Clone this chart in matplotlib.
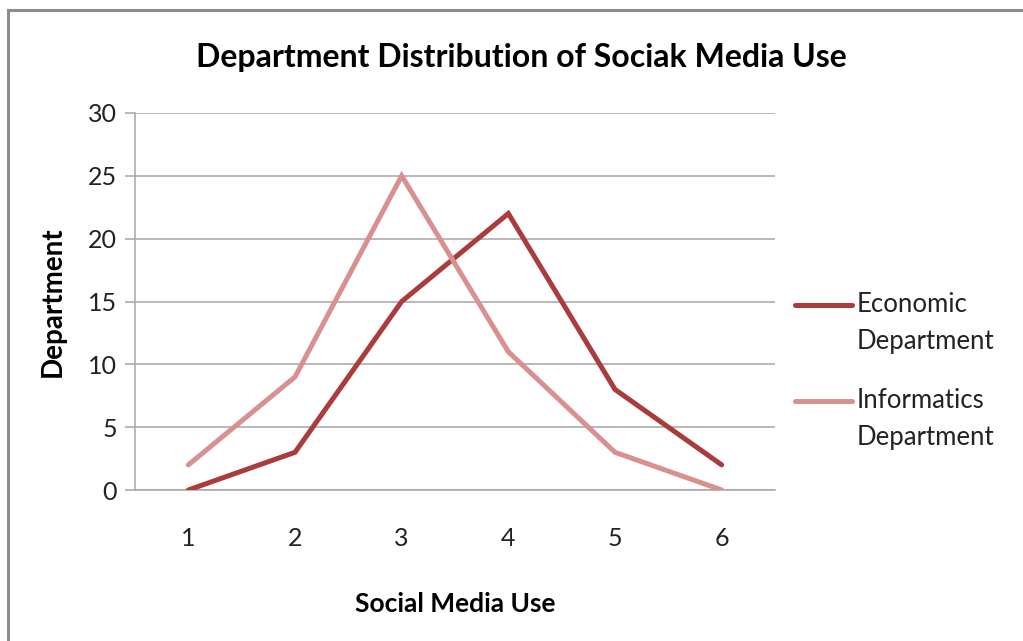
import matplotlib
matplotlib.use("Agg")
import matplotlib.pyplot as plt
from matplotlib.patches import Rectangle
from matplotlib.lines import Line2D

categories = ["1", "2", "3", "4", "5", "6"]
economic = [0, 3, 15, 22, 8, 2]
informatics = [2, 9, 25, 11, 3, 0]
series_names = [("Economic", "Department"), ("Informatics", "Department")]
series_colors = ["#AA3C3B", "#D99190"]
y_ticks = [0, 5, 10, 15, 20, 25, 30]

plt.rcParams["font.family"] = ["Lato", "DejaVu Sans"]

W, H = 1023, 641
fig = plt.figure(figsize=(W / 100, H / 100), dpi=100)
fig.patch.set_facecolor("white")

# outer chart frame
fig.add_artist(Rectangle((8 / W, -0.05), 1.1, (H - 10) / H + 0.05,
                         transform=fig.transFigure, fill=False,
                         edgecolor="#8c8c8c", linewidth=2.2))

ax = fig.add_axes([135 / W, (H - 490) / H, 640 / W, 377 / H])
x = list(range(len(categories)))
for vals, col in zip([economic, informatics], series_colors):
    ax.plot(x, vals, color=col, lw=3.6, solid_capstyle="round",
            solid_joinstyle="miter", zorder=3)

ax.set_xlim(-0.5, len(categories) - 0.5)
ax.set_ylim(0, 30)
ax.set_yticks(y_ticks)
ax.set_xticks(x)
ax.set_xticklabels(categories)
ax.yaxis.grid(True, color="#a6a6a6", lw=1.1)
ax.set_axisbelow(True)
for s in ["top", "right"]:
    ax.spines[s].set_visible(False)
for s in ["left", "bottom"]:
    ax.spines[s].set_color("#a6a6a6")
    ax.spines[s].set_linewidth(1.1)
ax.tick_params(axis="y", length=7, color="#a6a6a6", width=1.1,
               labelsize=18, pad=6, labelcolor="#222222")
ax.tick_params(axis="x", length=0, labelsize=18, pad=27, labelcolor="#222222")

# chart title, centred on the whole chart area
fig.text(521 / W, 1 - 57 / H, "Department Distribution of Sociak Media Use",
         fontsize=23, fontweight="bold", ha="center", va="center")
ax.set_xlabel("Social Media Use", fontsize=19, fontweight="bold", labelpad=30)
ax.set_ylabel("Department", fontsize=20, fontweight="bold", labelpad=16)

# legend: handle aligned with the first line of each two-line label
legend_rows = [305, 401]
for (l1, l2), col, yy in zip(series_names, series_colors, legend_rows):
    fy = 1 - yy / H
    fig.add_artist(Line2D([795 / W, 852 / W], [fy, fy], color=col, lw=3.6,
                          solid_capstyle="round", transform=fig.transFigure))
    fig.text(857 / W, fy, l1, fontsize=18.5, color="#222222",
             va="center", ha="left")
    fig.text(857 / W, 1 - (yy + 36) / H, l2, fontsize=18.5, color="#222222",
             va="center", ha="left")

fig.savefig("out.png", dpi=100)
